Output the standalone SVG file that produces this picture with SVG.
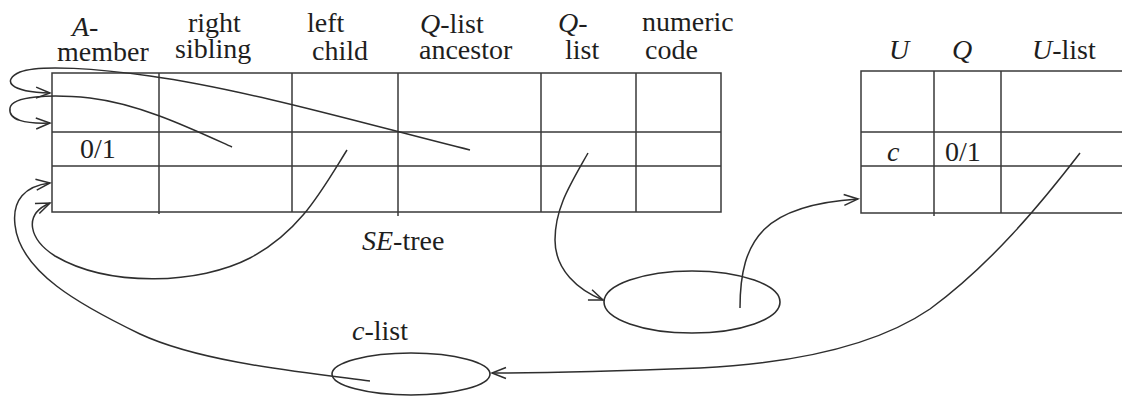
<svg xmlns="http://www.w3.org/2000/svg" width="1122" height="396" viewBox="0 0 1122 396">
<defs>
<style>
text{font-family:"Liberation Serif","Times New Roman",serif;font-size:28px;fill:#1e1e1e}
.i{font-style:italic}
.grid{stroke:#3a3a3a;stroke-width:1.5;fill:none}
.conn{stroke:#2e2e2e;stroke-width:1.5;fill:none;marker-end:url(#arr)}
.ell{stroke:#2e2e2e;stroke-width:1.6;fill:none}
</style>
<marker id="arr" markerUnits="userSpaceOnUse" markerWidth="20" markerHeight="14" refX="0" refY="0" viewBox="-16 -7 18 14" orient="auto">
<path d="M-14,-5.5 L0,0 L-14,5.5" fill="none" stroke="#2e2e2e" stroke-width="1.5"/>
</marker>
</defs>
<rect width="1122" height="396" fill="#ffffff"/>

<g id="se-tree">
<path class="grid" d="M52,73 H721 V212 H52 Z M52,132 H721 M52,166 H721 M159,73 V214 M292,73 V212 M398,73 V216 M541,73 V212 M636,73 V212"/>
<text><tspan x="72" y="36"><tspan class="i">A</tspan>-</tspan><tspan x="57" y="61">member</tspan></text>
<text><tspan x="188" y="32">right</tspan><tspan x="175" y="58">sibling</tspan></text>
<text><tspan x="307" y="32">left</tspan><tspan x="312" y="60">child</tspan></text>
<text><tspan x="420" y="33"><tspan class="i">Q</tspan>-list</tspan><tspan x="419" y="59">ancestor</tspan></text>
<text><tspan x="558" y="32"><tspan class="i">Q</tspan>-</tspan><tspan x="565" y="59">list</tspan></text>
<text><tspan x="642" y="31">numeric</tspan><tspan x="645" y="59">code</tspan></text>
<text x="80" y="158">0/1</text>
<text x="362" y="250"><tspan class="i">SE</tspan>-tree</text>
</g>

<g id="u-table">
<path class="grid" d="M1122,71 H861 V213 H1122 M861,132 H1122 M861,166 H1122 M934,71 V216 M1001,71 V213"/>
<text class="i" x="889" y="59">U</text>
<text class="i" x="952" y="59">Q</text>
<text x="1032" y="59"><tspan class="i">U</tspan>-list</text>
<text class="i" x="887" y="161">c</text>
<text x="945" y="161">0/1</text>
</g>

<g id="q-list">
<ellipse class="ell" cx="692" cy="302" rx="88" ry="31"/>
</g>

<g id="c-list">
<ellipse class="ell" cx="411" cy="374" rx="79" ry="21"/>
<text x="352" y="340"><tspan class="i">c</tspan>-list</text>
</g>

<g id="connectors">
<path class="conn" d="M470,150 C380,128 250,90 150,76 C100,69 40,64 20,72 C2,80 8,92 50,93"/>
<path class="conn" d="M232,147 C190,128 140,104 90,98 C50,94 12,96 10,108 C8,120 25,124 50,123"/>
<path class="conn" d="M347,150 C322,190 300,232 250,258 C200,284 110,288 55,256 C30,240 22,215 50,203"/>
<path class="conn" d="M370,381 C300,372 200,362 140,334 C80,305 20,272 15,225 C12,200 25,186 50,183"/>
<path class="conn" d="M588,153 C570,185 555,208 555,240 C555,270 578,290 603,300"/>
<path class="conn" d="M740,308 C740,238 765,205 858,199"/>
<path class="conn" d="M1080,153 C1040,205 990,265 930,309 C870,350 780,364 700,368 C620,371 560,373 492,373"/>
</g>
</svg>
